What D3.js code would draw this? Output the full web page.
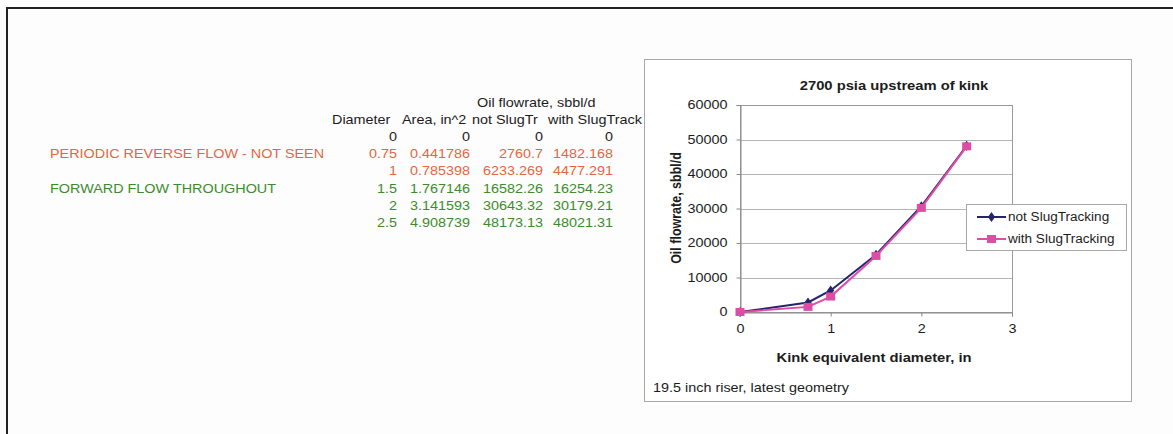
<!DOCTYPE html>
<html>
<head>
<meta charset="utf-8">
<script src="https://cdn.jsdelivr.net/npm/d3@7"></script>
<style>
  html, body { margin: 0; padding: 0; background: #fdfdfd; }
  svg { display: block; }
  text { font-family: "Liberation Sans", Arial, sans-serif; }
</style>
</head>
<body>
<svg id="sheet" width="1173" height="434"></svg>
<script>
// Kink study: diameter, flow area and oil rates with and without slug tracking
const diameters = [0, 0.75, 1, 1.5, 2, 2.5];
const areas = [0, 0.441786, 0.785398, 1.767146, 3.141593, 4.908739];
const notSlugTracking = [0, 2760.7, 6233.269, 16582.26, 30643.32, 48173.13];
const withSlugTracking = [0, 1482.168, 4477.291, 16254.23, 30179.21, 48021.31];
const seriesNames = ["not SlugTracking", "with SlugTracking"];
const tableHeaders = ["Diameter", "Area, in^2", "not SlugTr", "with SlugTrack"];
const yTicks = [0, 10000, 20000, 30000, 40000, 50000, 60000];
const xTicks = [0, 1, 2, 3];
const rowNotes = [
  { row: 1, text: "PERIODIC REVERSE FLOW - NOT SEEN", kind: "reverse" },
  { row: 3, text: "FORWARD FLOW THROUGHOUT", kind: "forward" }
];

const SX = 1.2;           // horizontal text stretch
const FONT = 12;
const colors = { reverse: "#e4663f", forward: "#3c8c2c", plain: "#1c1c1c" };
const rowKind = d => d === 0 ? "plain" : (d < 1.5 ? "reverse" : "forward");

const svg = d3.select("#sheet");

function label(g, x, y, str, opts = {}) {
  return g.append("text")
    .attr("transform", `translate(${x},${y}) scale(${opts.sx || SX},1)` + (opts.rotate ? ` rotate(${opts.rotate})` : ""))
    .attr("text-anchor", opts.anchor || "start")
    .attr("font-size", opts.size || FONT)
    .attr("font-weight", opts.bold ? "bold" : null)
    .attr("fill", opts.fill || colors.plain)
    .text(str);
}

// Sheet frame
svg.append("rect").attr("x", 7).attr("y", 8).attr("width", 1300).attr("height", 600)
  .attr("fill", "none").attr("stroke", "#222").attr("stroke-width", 2);

// ---------- Table ----------
const table = svg.append("g");
const colRight = [397, 470, 543, 613];
const headLeft = [332, 402, 472, 548];
const rowY = d3.scaleLinear().domain([0, 5]).range([141, 227]);

label(table, 477, 107, "Oil flowrate, sbbl/d");
tableHeaders.forEach((h, i) => label(table, headLeft[i], 124, h));

diameters.forEach((d, i) => {
  const fill = colors[rowKind(d)];
  const vals = [diameters[i], areas[i], notSlugTracking[i], withSlugTracking[i]];
  vals.forEach((v, c) => label(table, colRight[c], rowY(i), String(v), { anchor: "end", fill }));
});
rowNotes.forEach(n => label(table, 50, rowY(n.row), n.text, { fill: colors[n.kind] }));

// ---------- Chart ----------
const chart = svg.append("g");
chart.append("rect").attr("x", 644.5).attr("y", 59.5).attr("width", 487).attr("height", 342)
  .attr("fill", "#fff").attr("stroke", "#a8a8a8").attr("stroke-width", 1);

const plot = { left: 740, right: 1012, top: 105, bottom: 312 };
const x = d3.scaleLinear().domain([0, 3]).range([plot.left, plot.right]);
const y = d3.scaleLinear().domain([0, 60000]).range([plot.bottom, plot.top]);

// gridlines
chart.append("g").selectAll("line").data(yTicks).join("line")
  .attr("x1", plot.left).attr("x2", plot.right)
  .attr("y1", d => Math.round(y(d)) + 0.5).attr("y2", d => Math.round(y(d)) + 0.5)
  .attr("stroke", "#b5b5b5").attr("stroke-width", 1);
chart.append("rect").attr("x", plot.left + 0.5).attr("y", plot.top + 0.5)
  .attr("width", plot.right - plot.left).attr("height", plot.bottom - plot.top)
  .attr("fill", "none").attr("stroke", "#9a9a9a");

// axes
const yAxis = d3.axisLeft(y).tickValues(yTicks).tickSize(4).tickPadding(9).tickFormat(d3.format("d"));
const xAxis = d3.axisBottom(x).tickValues(xTicks).tickSize(4).tickPadding(8).tickFormat(d3.format("d"));
const gy = chart.append("g").attr("transform", `translate(${plot.left + 0.5},0)`).call(yAxis);
const gx = chart.append("g").attr("transform", `translate(0,${plot.bottom + 0.5})`).call(xAxis);
[gy, gx].forEach(g => {
  g.select(".domain").attr("stroke", "#8a8a8a");
  g.selectAll(".tick line").attr("stroke", "#8a8a8a");
  g.selectAll(".tick text").attr("font-size", FONT).attr("fill", "#1c1c1c")
    .attr("font-family", "Liberation Sans, Arial, sans-serif");
});
gy.selectAll(".tick text").attr("transform", function () {
  const xx = +d3.select(this).attr("x");
  return `translate(${xx},0) scale(${SX},1) translate(${-xx},0)`;
});
gx.selectAll(".tick text").attr("transform", `scale(${SX},1)`);

// titles
label(chart, 894, 90, "2700 psia upstream of kink", { anchor: "middle", bold: true, sx: 1.23 });
label(chart, 874, 362, "Kink equivalent diameter, in", { anchor: "middle", bold: true, sx: 1.23 });
label(chart, 681, 208, "Oil flowrate, sbbl/d", { anchor: "middle", bold: true, rotate: -90, size: 12.5 });
label(chart, 653, 392, "19.5 inch riser, latest geometry");

// series
const series = [
  { name: seriesNames[0], values: notSlugTracking, color: "#23236e", marker: "diamond" },
  { name: seriesNames[1], values: withSlugTracking, color: "#de4ca6", marker: "square" }
];
const line = d3.line().x(d => x(d[0])).y(d => y(d[1]));
const diamond = d3.symbol().type(d3.symbolDiamond).size(30);

function drawMarker(g, cx, cy, s) {
  if (s.marker === "square") {
    g.append("rect").attr("x", cx - 4.5).attr("y", cy - 4).attr("width", 9).attr("height", 8).attr("fill", s.color);
  } else {
    g.append("path").attr("d", diamond()).attr("transform", `translate(${cx},${cy}) scale(1.2,1)`).attr("fill", s.color);
  }
}

series.forEach(s => {
  const pts = diameters.map((d, i) => [d, s.values[i]]);
  chart.append("path").datum(pts).attr("d", line)
    .attr("fill", "none").attr("stroke", s.color).attr("stroke-width", 2);
  const mg = chart.append("g");
  pts.forEach(p => drawMarker(mg, x(p[0]), y(p[1]), s));
});

// legend
const leg = chart.append("g");
leg.append("rect").attr("x", 966.5).attr("y", 204.5).attr("width", 160).attr("height", 46)
  .attr("fill", "#fff").attr("stroke", "#a8a8a8");
series.forEach((s, i) => {
  const cy = 217 + i * 22;
  leg.append("line").attr("x1", 977).attr("x2", 1006).attr("y1", cy).attr("y2", cy)
    .attr("stroke", s.color).attr("stroke-width", 2);
  drawMarker(leg, 991.5, cy, s);
  label(leg, 1008, cy + 4, s.name, { sx: 1.13 });
});
</script>
</body>
</html>
